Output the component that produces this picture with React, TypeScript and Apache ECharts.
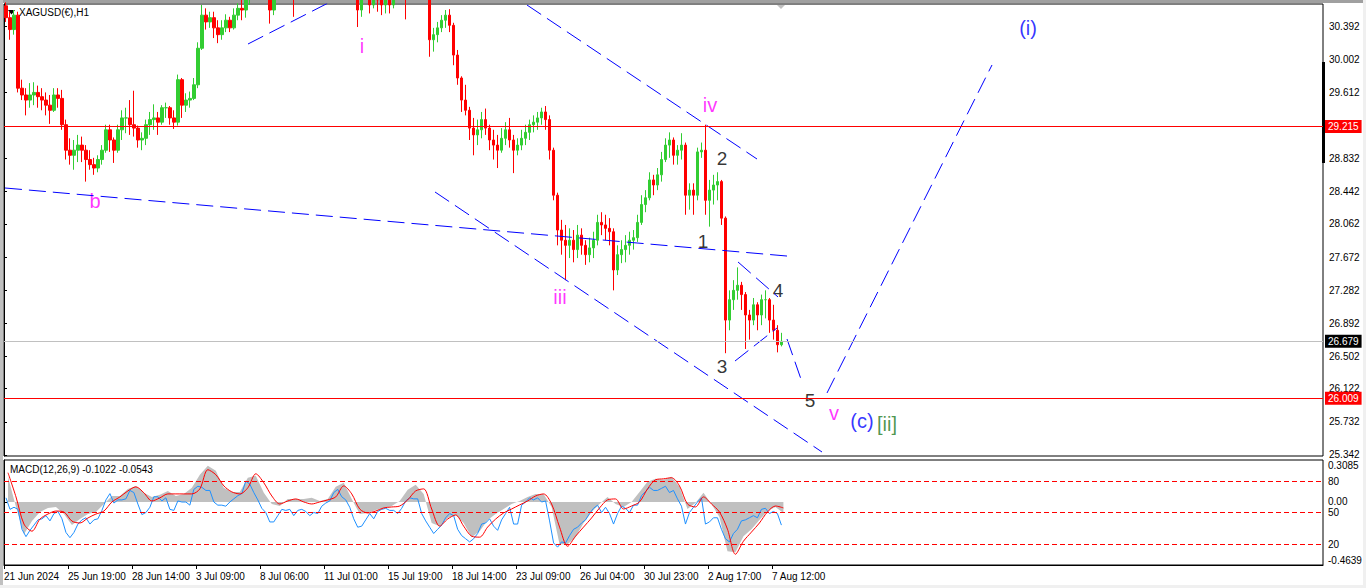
import React, { useEffect, useRef } from 'react';
import * as echarts from 'echarts';

// ---------- price data (4-hour buckets of the H1 chart) ----------
const firstOpen = 30.63;
const closes = [
  30.49, 30.35, 30.52, 29.66, 29.58, 29.52, 29.58, 29.61, 29.56, 29.52,
  29.46, 29.40, 29.58, 29.54, 29.23, 28.93, 28.87, 28.93, 28.99, 28.93,
  28.82, 28.76, 28.72, 28.82, 28.93, 29.17, 29.05, 28.93, 29.17, 29.31,
  29.31, 29.23, 29.19, 29.05, 29.07, 29.23, 29.29, 29.31, 29.26, 29.43,
  29.43, 29.31, 29.26, 29.76, 29.46, 29.52, 29.54, 29.70, 30.13, 30.52,
  30.44, 30.49, 30.37, 30.29, 30.37, 30.46, 30.37, 30.52, 30.60, 30.58,
  30.76, 30.88, 30.93, 30.99, 31.05, 30.93, 30.58, 30.76, 30.93, 30.99,
  31.05, 30.88, 30.82, 30.99, 31.11, 31.17, 31.23, 31.11, 31.05, 30.99,
  30.93, 30.88, 30.93, 30.99, 30.88, 30.82, 30.79, 30.82, 30.58, 30.70,
  30.76, 30.64, 30.76, 30.70, 30.64, 30.70, 30.64, 30.82, 30.93, 30.88,
  30.76, 30.93, 31.05, 31.11, 31.05, 30.93, 30.23, 30.29, 30.37, 30.46,
  30.52, 30.40, 30.05, 29.78, 29.52, 29.40, 29.19, 29.11, 29.17, 29.29,
  29.19, 29.05, 28.99, 28.93, 29.07, 29.17, 29.05, 28.93, 28.99, 29.07,
  29.14, 29.23, 29.26, 29.31, 29.38, 29.29, 28.93, 28.40, 27.99, 27.87,
  27.81, 27.87, 27.76, 27.93, 27.81, 27.70, 27.78, 27.87, 28.08, 28.05,
  28.01, 27.97, 27.52, 27.70, 27.76, 27.81, 27.87, 27.90, 28.08, 28.29,
  28.37, 28.58, 28.52, 28.64, 28.82, 28.99, 29.05, 28.87, 28.93, 28.99,
  28.40, 28.46, 28.40, 28.91, 28.93, 28.34, 28.46, 28.52, 28.56, 28.13,
  26.93, 27.17, 27.28, 27.34, 27.23, 26.99, 26.93, 27.11, 26.99, 27.17,
  27.17, 26.93, 26.81, 26.64, 26.68,
];
const highs = [
  30.67, 30.56, 30.58, 30.56, 29.76, 29.66, 29.72, 29.73, 29.69, 29.66,
  29.61, 29.58, 29.66, 29.66, 29.64, 29.29, 29.07, 29.05, 29.11, 29.09,
  28.99, 28.93, 28.84, 28.87, 28.99, 29.23, 29.23, 29.08, 29.23, 29.40,
  29.43, 29.52, 29.63, 29.22, 29.14, 29.29, 29.38, 29.47, 29.38, 29.46,
  29.49, 29.45, 29.40, 29.82, 29.78, 29.60, 29.62, 29.78, 30.20, 30.64,
  30.60, 30.56, 30.56, 30.46, 30.46, 30.53, 30.50, 30.60, 30.66, 30.70,
  30.88, 30.99, 31.05, 31.11, 31.17, 31.11, 31.05, 30.82, 30.99, 31.11,
  31.17, 31.11, 30.93, 31.05, 31.17, 31.29, 31.35, 31.29, 31.23, 31.17,
  31.11, 31.05, 31.05, 31.11, 31.05, 30.99, 30.93, 30.93, 30.91, 30.82,
  30.88, 30.82, 30.84, 30.88, 30.93, 30.88, 30.82, 30.93, 31.05, 31.05,
  30.93, 31.05, 31.17, 31.23, 31.17, 31.11, 30.99, 30.37, 30.44, 30.52,
  30.58, 30.59, 30.43, 30.11, 29.80, 29.70, 29.44, 29.31, 29.29, 29.38,
  29.42, 29.23, 29.17, 29.11, 29.19, 29.26, 29.31, 29.11, 29.07, 29.17,
  29.23, 29.29, 29.34, 29.38, 29.43, 29.45, 29.34, 28.96, 28.43, 28.11,
  28.05, 28.01, 27.99, 28.05, 28.01, 27.87, 27.90, 27.97, 28.17, 28.20,
  28.17, 28.13, 28.01, 27.81, 27.87, 27.93, 27.97, 27.99, 28.17, 28.40,
  28.46, 28.67, 28.64, 28.72, 28.91, 29.07, 29.14, 29.08, 28.99, 29.13,
  29.02, 28.54, 28.54, 28.96, 29.02, 29.23, 28.58, 28.64, 28.67, 28.58,
  28.15, 27.28, 27.40, 27.55, 27.38, 27.26, 27.05, 27.19, 27.14, 27.23,
  27.28, 27.19, 27.11, 26.87, 26.78,
];
const lows = [
  30.44, 30.23, 30.29, 29.61, 29.52, 29.34, 29.43, 29.46, 29.43, 29.40,
  29.34, 29.24, 29.38, 29.43, 29.17, 28.82, 28.76, 28.70, 28.79, 28.79,
  28.56, 28.70, 28.64, 28.67, 28.76, 28.90, 28.91, 28.78, 28.90, 29.05,
  29.13, 29.11, 29.09, 28.96, 28.93, 28.99, 29.11, 29.17, 29.11, 29.23,
  29.31, 29.23, 29.18, 29.22, 29.31, 29.38, 29.43, 29.52, 29.66, 30.11,
  30.35, 30.37, 30.25, 30.19, 30.23, 30.32, 30.32, 30.35, 30.46, 30.46,
  30.49, 30.64, 30.70, 30.72, 30.82, 30.82, 30.42, 30.52, 30.72, 30.82,
  30.84, 30.76, 30.50, 30.76, 30.88, 30.99, 31.05, 30.99, 30.93, 30.88,
  30.82, 30.79, 30.79, 30.82, 30.76, 30.72, 30.70, 30.72, 30.38, 30.50,
  30.67, 30.54, 30.60, 30.56, 30.52, 30.54, 30.54, 30.60, 30.76, 30.76,
  30.47, 30.74, 30.82, 30.88, 30.82, 30.79, 30.03, 30.09, 30.20, 30.32,
  30.37, 30.32, 29.93, 29.70, 29.38, 29.34, 29.05, 28.87, 28.99, 29.07,
  29.11, 28.93, 28.82, 28.72, 28.90, 28.99, 28.96, 28.66, 28.87, 28.93,
  28.99, 29.05, 29.14, 29.17, 29.23, 29.17, 28.82, 28.34, 27.81, 27.70,
  27.40, 27.66, 27.61, 27.66, 27.70, 27.58, 27.61, 27.66, 27.81, 27.93,
  27.87, 27.81, 27.28, 27.46, 27.60, 27.61, 27.70, 27.76, 27.85, 28.05,
  28.20, 28.34, 28.40, 28.46, 28.56, 28.79, 28.84, 28.76, 28.76, 28.82,
  28.17, 28.23, 28.17, 28.34, 28.84, 28.17, 28.03, 28.29, 28.34, 28.05,
  26.54, 26.81, 27.05, 27.17, 27.05, 26.59, 26.70, 26.87, 26.81, 26.87,
  26.95, 26.78, 26.70, 26.55, 26.62,
];

// ---------- indicator window (MACD histogram + signal on 8-hour steps, oscillator on 4-hour steps) ----------
const macdHist = [
  0.185, -0.037, -0.237, -0.141, -0.074, -0.044, -0.037, -0.089, -0.170, -0.126,
  -0.089, -0.074, -0.015, 0.044, 0.044, 0.096, 0.118, 0.067, 0.037, 0.052,
  0.081, 0.044, 0.059, 0.104, 0.200, 0.266, 0.229, 0.104, 0.074, 0.074,
  0.178, 0.192, 0.067, -0.015, -0.030, 0.022, 0.022, 0.022, 0.030, 0.007,
  0.022, 0.111, 0.141, 0.022, -0.089, -0.081, -0.059, -0.044, -0.030, 0.007,
  0.089, 0.126, 0.059, -0.155, -0.178, -0.118, -0.096, -0.155, -0.259, -0.215,
  -0.133, -0.089, -0.052, -0.015, 0.007, 0.037, 0.059, 0.059, -0.037, -0.311,
  -0.311, -0.259, -0.155, -0.074, -0.015, 0.037, -0.015, -0.037, 0.000, 0.074,
  0.148, 0.170, 0.163, 0.185, 0.111, -0.052, -0.007, 0.067, -0.015, -0.111,
  -0.363, -0.370, -0.252, -0.200, -0.133, -0.067, -0.037, -0.081,
];
const macdSignal = [
  0.215, 0.037, -0.163, -0.215, -0.126, -0.089, -0.067, -0.074, -0.141, -0.155,
  -0.118, -0.089, -0.067, 0.000, 0.037, 0.081, 0.111, 0.067, 0.007, 0.030,
  0.059, 0.059, 0.059, 0.059, 0.096, 0.237, 0.200, 0.118, 0.074, 0.059,
  0.104, 0.207, 0.141, 0.044, -0.015, 0.007, 0.022, 0.000, -0.015, 0.000,
  0.015, 0.037, 0.118, 0.059, -0.052, -0.081, -0.067, -0.044, -0.037, -0.030,
  0.015, 0.081, 0.096, -0.052, -0.178, -0.126, -0.096, -0.178, -0.252, -0.259,
  -0.185, -0.126, -0.081, -0.052, -0.022, 0.007, 0.044, 0.059, -0.015, -0.185,
  -0.326, -0.252, -0.185, -0.118, -0.044, 0.015, 0.022, -0.052, -0.030, 0.000,
  0.096, 0.163, 0.170, 0.178, 0.118, -0.015, -0.037, 0.037, -0.015, -0.074,
  -0.200, -0.385, -0.289, -0.222, -0.155, -0.074, -0.030, -0.044,
];
const oscillator = [
  64, 53, 55, 53, 34, 27, 33, 38, 43, 44,
  47, 42, 49, 51, 44, 31, 26, 31, 39, 43,
  45, 39, 43, 44, 52, 62, 68, 59, 62, 62,
  63, 71, 69, 58, 48, 50, 55, 65, 65, 61,
  64, 53, 52, 61, 60, 60, 57, 72, 75, 74,
  71, 71, 60, 57, 57, 56, 60, 63, 66, 68,
  80, 77, 69, 62, 54, 50, 41, 41, 47, 53,
  52, 53, 47, 52, 53, 51, 47, 50, 49, 56,
  59, 61, 69, 72, 65, 62, 55, 44, 36, 37,
  43, 49, 44, 51, 53, 54, 52, 52, 49, 54,
  61, 64, 63, 63, 49, 42, 36, 30, 34, 38,
  45, 49, 47, 34, 28, 25, 22, 25, 30, 39,
  40, 44, 37, 33, 43, 49, 55, 39, 39, 57,
  60, 64, 62, 64, 60, 61, 42, 21, 17, 22,
  21, 28, 34, 36, 40, 43, 49, 54, 57, 50,
  55, 49, 39, 49, 56, 54, 50, 57, 57, 66,
  70, 74, 71, 71, 73, 75, 69, 71, 63, 56,
  39, 50, 55, 60, 64, 39, 41, 45, 45, 34,
  25, 22, 30, 34, 42, 43, 45, 47, 45, 53,
  54, 49, 51, 49, 38,
];
const oscLevels = [80, 50, 20];

// ---------- axes ----------
const priceTicks = [30.392, 30.002, 29.612, 28.832, 28.442, 28.062, 27.672, 27.282, 26.892, 26.502, 26.122, 25.732, 25.342];
const priceMin = 25.33;
const priceMax = 30.651;
const macdMin = -0.4639;
const macdMax = 0.3085;
const macdTicks = [-0.4639, 0, 0.3085];
const dateLabels = ['21 Jun 2024', '25 Jun 19:00', '28 Jun 14:00', '3 Jul 09:00', '8 Jul 06:00', '11 Jul 01:00', '15 Jul 19:00', '18 Jul 14:00', '23 Jul 09:00', '26 Jul 04:00', '30 Jul 23:00', '2 Aug 17:00', '7 Aug 12:00'];
const hoursPerDateLabel = 64;
const totalHours = 1319;

// ---------- horizontal levels ----------
const resistanceLevel = 29.215;
const supportLevel = 26.009;
const lastPrice = 26.679;

// ---------- wave count annotations: [hour index, price] ----------
const trendLines: [number, number][][] = [
  [[1, 28.485], [783, 27.684]],
  [[523, 30.639], [753, 28.826]],
  [[431, 28.438], [818, 25.377]],
  [[244, 30.18], [326, 30.674]],
  [[734, 27.614], [774, 27.202]],
  [[731, 26.448], [773, 26.837]],
  [[783, 26.707], [798, 26.201]],
  [[823, 26.072], [988, 29.933]],
];
const minorWaves = [
  { name: 'b', at: [91, 28.332] },
  { name: 'i', at: [358, 30.156] },
  { name: 'iii', at: [556, 27.202] },
  { name: 'iv', at: [706, 29.462] },
  { name: 'v', at: [830, 25.836] },
];
const subWaves = [
  { name: '1', at: [699, 27.861] },
  { name: '2', at: [718, 28.838] },
  { name: '3', at: [718, 26.389] },
  { name: '4', at: [774, 27.284] },
  { name: '5', at: [806, 25.989] },
];
const intermediateWaves = [
  { name: '(i)', at: [1024, 30.368] },
  { name: '(c)', at: [858, 25.742] },
];
const primaryWaves = [{ name: '[ii]', at: [883, 25.707] }];

const UI_FONT = "'Liberation Sans', Arial, sans-serif";
const SANS = "'Liberation Sans', Arial, sans-serif";

function labelSeries(items: { name: string; at: number[] }[], color: string, size: number) {
  return {
    type: 'scatter',
    xAxisIndex: 1,
    yAxisIndex: 0,
    symbol: 'circle',
    symbolSize: 1,
    silent: true,
    itemStyle: { color: 'rgba(0,0,0,0)' },
    label: {
      show: true,
      position: 'inside',
      formatter: '{b}',
      color,
      fontSize: size,
      fontFamily: SANS,
    },
    data: items.map((d) => ({ name: d.name, value: d.at })),
  };
}

function buildOption() {
  const barSlots = Array.from({ length: 330 }, (_, i) => String(i));
  const macdSlots = Array.from({ length: 165 }, (_, i) => String(i));
  const candles = closes.map((c, i) => [i === 0 ? firstOpen : closes[i - 1], c, lows[i], highs[i]]);
  const dateTickValues = dateLabels.map((_, i) => i * hoursPerDateLabel);

  const axisText = { color: '#000', fontSize: 10, fontFamily: UI_FONT };

  return {
    animation: false,
    backgroundColor: '#ffffff',
    title: [
      { text: 'XAGUSD(€),H1', left: 19, top: 7, padding: 0, textStyle: { ...axisText, fontWeight: 'normal' } },
      { text: 'MACD(12,26,9) -0.1022 -0.0543', left: 10, top: 464, padding: 0, textStyle: { ...axisText, fontWeight: 'normal' } },
    ],
    grid: [
      { left: 4, top: 4, width: 1319, height: 452, show: true, borderColor: '#000', borderWidth: 1, backgroundColor: 'transparent' },
      { left: 4, top: 460, width: 1319, height: 105, show: true, borderColor: '#000', borderWidth: 1, backgroundColor: 'transparent' },
    ],
    xAxis: [
      { type: 'category', gridIndex: 0, data: barSlots, show: false, boundaryGap: true },
      { type: 'value', gridIndex: 0, min: 0, max: totalHours, show: false },
      { type: 'category', gridIndex: 1, data: macdSlots, show: false, boundaryGap: true },
      { type: 'category', gridIndex: 1, data: barSlots, show: false, boundaryGap: true },
      {
        type: 'value',
        gridIndex: 1,
        min: 0,
        max: totalHours,
        position: 'bottom',
        axisLine: { show: true, lineStyle: { color: '#000' } },
        axisTick: { show: true, length: 4, customValues: dateTickValues, lineStyle: { color: '#000' } },
        axisLabel: {
          ...axisText,
          customValues: dateTickValues,
          align: 'left',
          margin: 6,
          formatter: (v: number) => dateLabels[Math.round(v / hoursPerDateLabel)] ?? '',
        },
        splitLine: { show: false },
      },
    ],
    yAxis: [
      {
        type: 'value',
        gridIndex: 0,
        position: 'right',
        min: priceMin,
        max: priceMax,
        axisLine: { show: true, lineStyle: { color: '#000' } },
        axisTick: { show: true, length: 3, customValues: priceTicks, lineStyle: { color: '#000' } },
        axisLabel: { ...axisText, customValues: priceTicks, margin: 6, formatter: (v: number) => v.toFixed(3) },
        splitLine: { show: false },
      },
      {
        type: 'value',
        gridIndex: 1,
        position: 'right',
        min: macdMin,
        max: macdMax,
        axisLine: { show: true, lineStyle: { color: '#000' } },
        axisTick: { show: true, length: 3, customValues: [0], lineStyle: { color: '#000' } },
        axisLabel: {
          ...axisText,
          customValues: macdTicks,
          margin: 5,
          verticalAlignMaxLabel: 'top',
          verticalAlignMinLabel: 'bottom',
          formatter: (v: number) => (v === 0 ? '0.00' : v.toFixed(4)),
        },
        splitLine: { show: false },
      },
      {
        type: 'value',
        gridIndex: 1,
        position: 'right',
        min: 0,
        max: 100,
        axisLine: { show: false },
        axisTick: { show: false },
        axisLabel: { ...axisText, customValues: oscLevels, margin: 5 },
        splitLine: { show: false },
      },
    ],
    series: [
      {
        type: 'candlestick',
        xAxisIndex: 0,
        yAxisIndex: 0,
        barWidth: 3,
        clip: true,
        silent: true,
        data: candles,
        itemStyle: {
          color: '#32cd32',
          color0: '#ff0000',
          borderColor: '#32cd32',
          borderColor0: '#ff0000',
          borderWidth: 1,
        },
        markLine: {
          silent: true,
          symbol: ['none', 'none'],
          lineStyle: { type: 'solid', width: 1 },
          label: {
            show: true,
            position: 'end',
            distance: 2,
            padding: [2, 3, 1, 3],
            fontSize: 10,
            fontFamily: UI_FONT,
            color: '#fff',
            formatter: '{b}',
          },
          data: [
            { name: resistanceLevel.toFixed(3), yAxis: resistanceLevel, lineStyle: { color: '#ff0000' }, label: { backgroundColor: '#ff0000' } },
            { name: supportLevel.toFixed(3), yAxis: supportLevel, lineStyle: { color: '#ff0000' }, label: { backgroundColor: '#ff0000' } },
            { name: lastPrice.toFixed(3), yAxis: lastPrice, lineStyle: { color: '#c0c0c0' }, label: { backgroundColor: '#000000' } },
          ],
        },
      },
      ...trendLines.map((seg) => ({
        type: 'line',
        xAxisIndex: 1,
        yAxisIndex: 0,
        data: seg,
        symbol: 'none',
        silent: true,
        clip: true,
        lineStyle: { color: '#0000ff', width: 1, type: [17, 7] },
      })),
      labelSeries(minorWaves, '#ff00ff', 20),
      labelSeries(subWaves, '#000000', 19),
      labelSeries(intermediateWaves, '#0000ff', 20),
      labelSeries(primaryWaves, '#1f7a1f', 20),
      {
        type: 'line',
        xAxisIndex: 2,
        yAxisIndex: 1,
        data: macdHist,
        symbol: 'none',
        silent: true,
        lineStyle: { width: 0, color: '#c0c0c0' },
        areaStyle: { color: '#c0c0c0', opacity: 1 },
      },
      {
        type: 'line',
        xAxisIndex: 3,
        yAxisIndex: 2,
        data: oscillator,
        symbol: 'none',
        silent: true,
        lineStyle: { width: 1, color: '#1e90ff' },
        markLine: {
          silent: true,
          symbol: ['none', 'none'],
          label: { show: false },
          lineStyle: { color: '#ff0000', width: 1, type: [5, 3] },
          data: oscLevels.map((v) => ({ yAxis: v })),
        },
      },
      {
        type: 'line',
        xAxisIndex: 2,
        yAxisIndex: 1,
        data: macdSignal,
        symbol: 'none',
        silent: true,
        smooth: 0.3,
        lineStyle: { width: 1, color: '#ff0000' },
      },
    ],
    graphic: [
      { type: 'rect', shape: { x: 0, y: 0, width: 1366, height: 3 }, style: { fill: '#a0a0a0' }, silent: true },
      { type: 'rect', shape: { x: 0, y: 0, width: 3, height: 588 }, style: { fill: '#c0c0c0' }, silent: true },
      { type: 'rect', shape: { x: 1363, y: 0, width: 3, height: 588 }, style: { fill: '#f0f0f0' }, silent: true },
      { type: 'rect', shape: { x: 0, y: 585, width: 1366, height: 3 }, style: { fill: '#f0f0f0' }, silent: true },
      { type: 'polygon', shape: { points: [[8, 10], [15, 10], [11.5, 14.5]] }, style: { fill: '#000' }, silent: true },
      { type: 'polygon', shape: { points: [[777, 5], [785, 5], [781, 9]] }, style: { fill: '#c0c0c0' }, silent: true },
      { type: 'rect', shape: { x: 1322, y: 62, width: 3, height: 101 }, style: { fill: '#000' }, silent: true },
    ],
  };
}

export default function App() {
  const ref = useRef<HTMLDivElement>(null);
  useEffect(() => {
    document.body.style.margin = '0';
    const chart = echarts.init(ref.current as HTMLDivElement, null, { renderer: 'svg' });
    chart.setOption(buildOption() as any);
    return () => chart.dispose();
  }, []);
  return <div ref={ref} style={{ width: 1366, height: 588, background: '#fff' }} />;
}
